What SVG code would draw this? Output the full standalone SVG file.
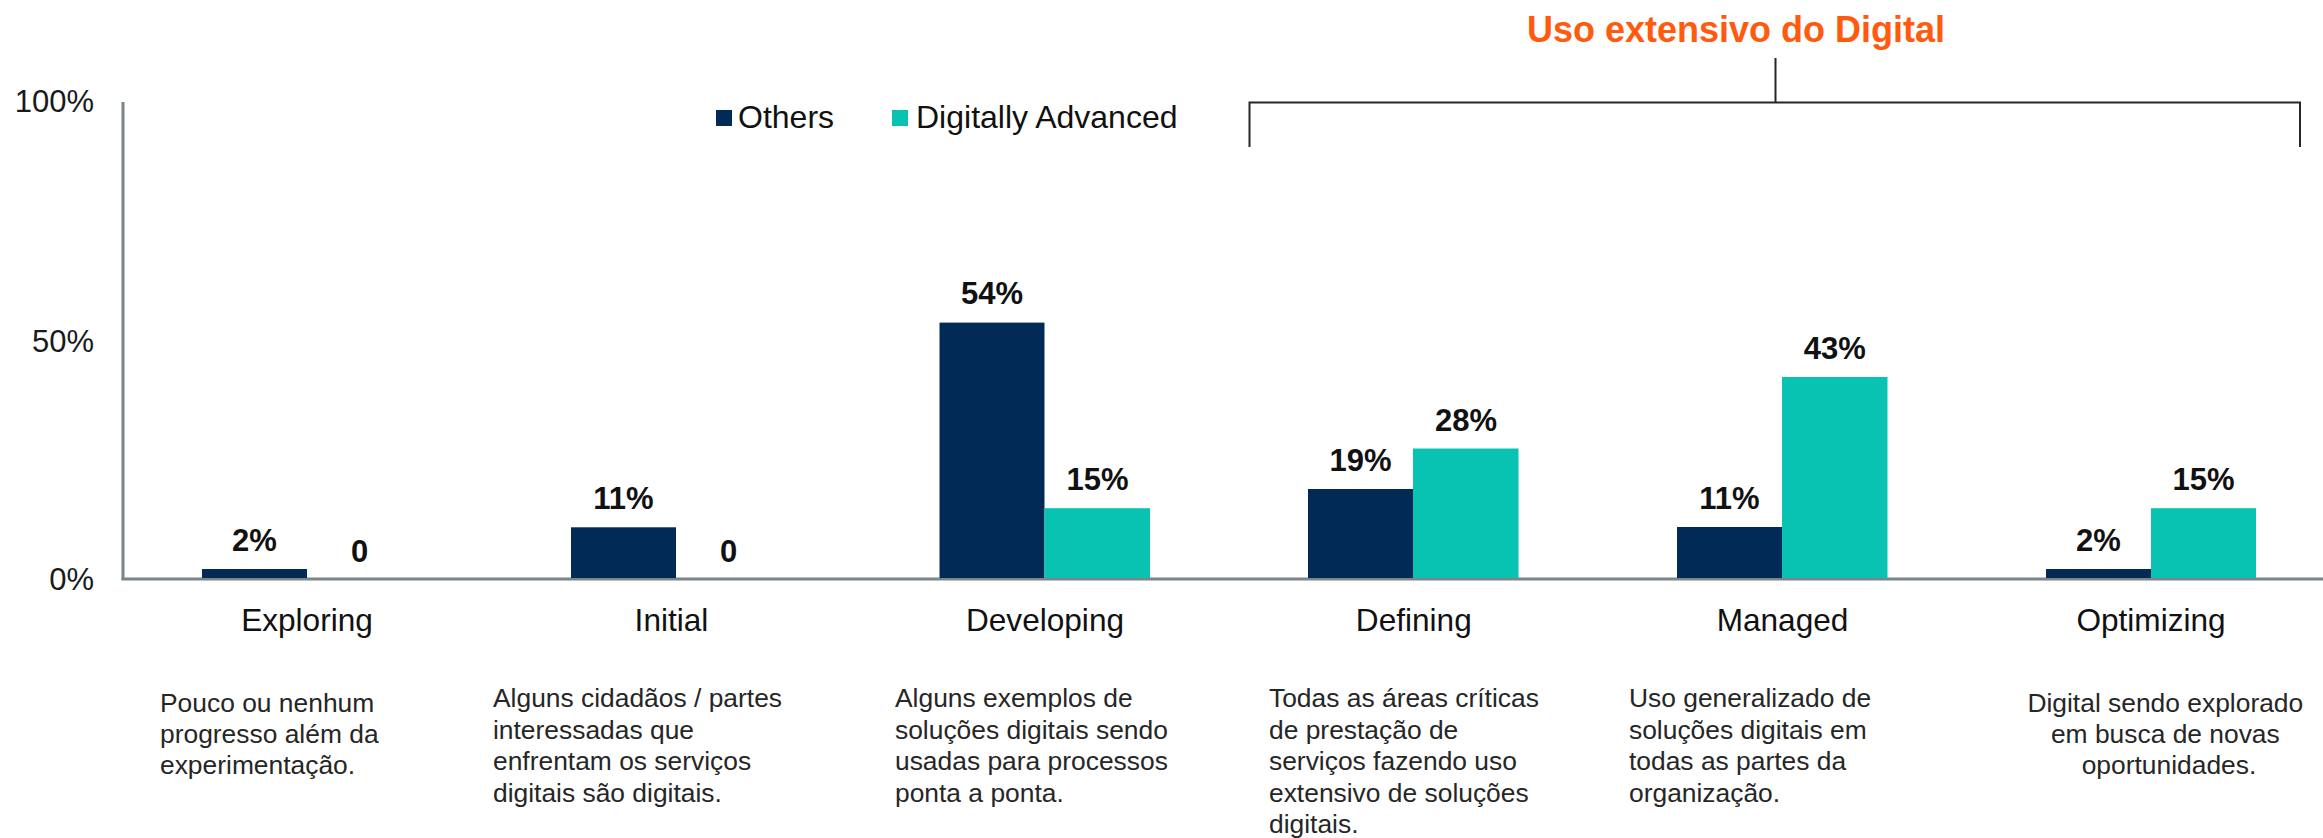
<svg xmlns="http://www.w3.org/2000/svg" width="2323" height="838" viewBox="0 0 2323 838">
  <style>
    .others { fill: #022A56; }
    .adv { fill: #08C3B1; }
    .tick { font-family: "Liberation Sans", Arial, sans-serif; font-size: 31px; fill: #1a1a1a; text-anchor: end; }
    .val { font-family: "Liberation Sans", Arial, sans-serif; font-size: 31px; font-weight: bold; fill: #111; text-anchor: middle; }
    .cat { font-family: "Liberation Sans", Arial, sans-serif; font-size: 31.6px; fill: #111; text-anchor: middle; }
    .desc { font-family: "Liberation Sans", Arial, sans-serif; font-size: 26.4px; fill: #262626; }
    .legend { font-family: "Liberation Sans", Arial, sans-serif; font-size: 32px; fill: #111; }
    .title { font-family: "Liberation Sans", Arial, sans-serif; font-size: 36px; font-weight: bold; fill: #FF5A0E; text-anchor: middle; }
    .axis { stroke: #7B8689; stroke-width: 3; fill: none; }
    .bracket { stroke: #262626; stroke-width: 2; fill: none; }
  </style>
  <rect width="2323" height="838" fill="#ffffff"/>

  <g id="axes">
    <line class="axis" x1="123" y1="102" x2="123" y2="580"/>
    <line class="axis" x1="121.5" y1="579" x2="2323" y2="579"/>
    <text class="tick" x="94" y="112">100%</text>
    <text class="tick" x="94" y="352">50%</text>
    <text class="tick" x="94" y="590">0%</text>
  </g>

  <g id="legend">
    <rect class="others" x="716" y="110" width="16" height="16"/>
    <text class="legend" x="738" y="128">Others</text>
    <rect class="adv" x="892" y="110" width="16" height="16"/>
    <text class="legend" x="916" y="128">Digitally Advanced</text>
  </g>

  <g id="connectors">
    <path class="bracket" d="M1249.5,147 V102.5 H2300 V147"/>
    <line class="bracket" x1="1775.5" y1="58" x2="1775.5" y2="102.5"/>
  </g>

  <g id="title-extensivo">
    <text class="title" x="1736" y="41.5">Uso extensivo do Digital</text>
  </g>

  <g id="cat-exploring">
    <rect class="others" x="202" y="569" width="105" height="9"/>
    <text class="val" x="254.5" y="550.5">2%</text>
    <text class="val" x="359.5" y="562">0</text>
    <text class="cat" x="307" y="630.7">Exploring</text>
    <text class="desc">
      <tspan x="160" y="711.5">Pouco ou nenhum</tspan>
      <tspan x="160" y="742.5">progresso além da</tspan>
      <tspan x="160" y="773.5">experimentação.</tspan>
    </text>
  </g>

  <g id="cat-initial">
    <rect class="others" x="571" y="527.3" width="105" height="50.7"/>
    <text class="val" x="623.5" y="509.3">11%</text>
    <text class="val" x="728.5" y="562">0</text>
    <text class="cat" x="671.5" y="630.7">Initial</text>
    <text class="desc">
      <tspan x="493" y="707.3">Alguns cidadãos / partes</tspan>
      <tspan x="493" y="738.7">interessadas que</tspan>
      <tspan x="493" y="770">enfrentam os serviços</tspan>
      <tspan x="493" y="801.5">digitais são digitais.</tspan>
    </text>
  </g>

  <g id="cat-developing">
    <rect class="others" x="939.5" y="322.6" width="105" height="255.4"/>
    <rect class="adv" x="1044.5" y="508.2" width="105.5" height="69.8"/>
    <text class="val" x="992" y="304">54%</text>
    <text class="val" x="1097.5" y="490">15%</text>
    <text class="cat" x="1045" y="630.7">Developing</text>
    <text class="desc">
      <tspan x="895" y="707.3">Alguns exemplos de</tspan>
      <tspan x="895" y="738.7">soluções digitais sendo</tspan>
      <tspan x="895" y="770">usadas para processos</tspan>
      <tspan x="895" y="801.5">ponta a ponta.</tspan>
    </text>
  </g>

  <g id="cat-defining">
    <rect class="others" x="1308" y="489" width="105" height="89"/>
    <rect class="adv" x="1413" y="448.5" width="105.5" height="129.5"/>
    <text class="val" x="1360.5" y="471">19%</text>
    <text class="val" x="1466" y="430.5">28%</text>
    <text class="cat" x="1413.8" y="630.7">Defining</text>
    <text class="desc">
      <tspan x="1269" y="707.3">Todas as áreas críticas</tspan>
      <tspan x="1269" y="738.7">de prestação de</tspan>
      <tspan x="1269" y="770">serviços fazendo uso</tspan>
      <tspan x="1269" y="801.5">extensivo de soluções</tspan>
      <tspan x="1269" y="833">digitais.</tspan>
    </text>
  </g>

  <g id="cat-managed">
    <rect class="others" x="1677" y="527" width="105" height="51"/>
    <rect class="adv" x="1782" y="377" width="105.5" height="201"/>
    <text class="val" x="1729.5" y="509.3">11%</text>
    <text class="val" x="1834.8" y="358.6">43%</text>
    <text class="cat" x="1782.5" y="630.7">Managed</text>
    <text class="desc">
      <tspan x="1629" y="707.3">Uso generalizado de</tspan>
      <tspan x="1629" y="738.7">soluções digitais em</tspan>
      <tspan x="1629" y="770">todas as partes da</tspan>
      <tspan x="1629" y="801.5">organização.</tspan>
    </text>
  </g>

  <g id="cat-optimizing">
    <rect class="others" x="2046" y="569" width="105" height="9"/>
    <rect class="adv" x="2151" y="508.2" width="105" height="69.8"/>
    <text class="val" x="2098.5" y="550.5">2%</text>
    <text class="val" x="2203.5" y="490">15%</text>
    <text class="cat" x="2151" y="630.7">Optimizing</text>
    <text class="desc" text-anchor="middle">
      <tspan x="2169" y="711.5">Digital sendo explorado</tspan>
      <tspan x="2169" y="742.5">em busca de novas</tspan>
      <tspan x="2169" y="773.5">oportunidades.</tspan>
    </text>
  </g>
</svg>
